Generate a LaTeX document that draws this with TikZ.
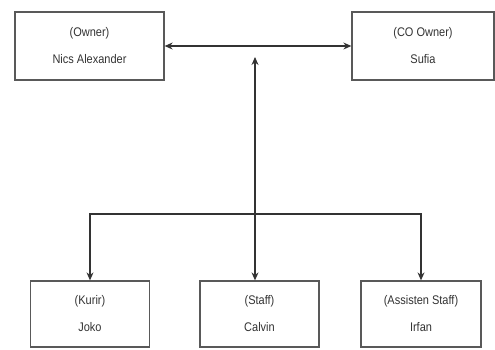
\documentclass[tikz,border=0pt]{standalone}
\usepackage{fontspec}
\setmainfont{Liberation Sans}[FakeStretch=0.88]
\usetikzlibrary{arrows.meta}
\tikzset{
  person/.style={draw=black!65,line width=1.3pt,inner sep=0pt,
    text=black!80,align=center,font=\fontsize{12.5}{27}\selectfont},
  link/.style={draw=black!80,line width=1.1pt},
  tip/.style={-{Stealth[length=8pt,width=7pt]}},
  twotips/.style={{Stealth[length=8pt,width=7pt]}-{Stealth[length=8pt,width=7pt]}}
}
\begin{document}
\begin{tikzpicture}[x=1pt,y=-1pt]
  \useasboundingbox[fill=white] (0,0) rectangle (495,349);
  \node[person,minimum width=149pt,minimum height=68pt] (owner) at (89.5,46)
    {(Owner)\\Nics Alexander};
  \node[person,minimum width=142pt,minimum height=68pt] (coowner) at (423,46)
    {(CO Owner)\\Sufia};
  \node[person,minimum width=119pt,minimum height=66pt] (kurir) at (90,314)
    {(Kurir)\\Joko};
  \node[person,minimum width=119pt,minimum height=66pt] (staff) at (259.5,314)
    {(Staff)\\Calvin};
  \node[person,minimum width=120pt,minimum height=66pt] (asisten) at (421,314)
    {(Assisten Staff)\\Irfan};
  \coordinate (hub) at (255,57);
  \coordinate (split) at (255,214);
  \draw[link,twotips] (owner.east) -- (coowner.west);
  \draw[link,twotips] (hub) -- (hub |- staff.north);
  \draw[link,tip] (split) -| (kurir.north);
  \draw[link,tip] (split) -| (asisten.north);
\end{tikzpicture}
\end{document}
